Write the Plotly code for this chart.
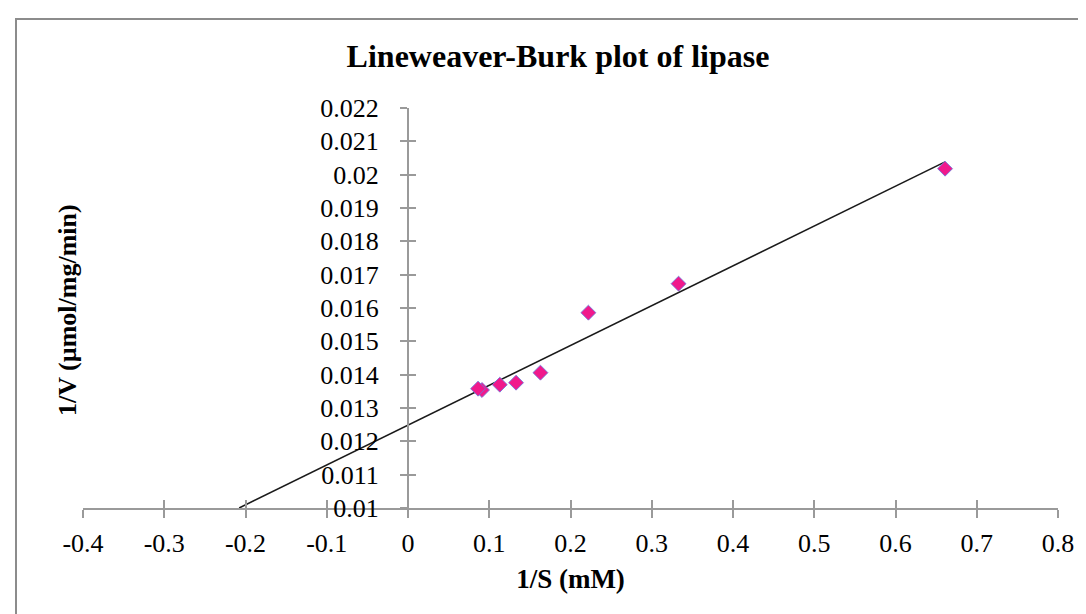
import numpy as np
import plotly.graph_objects as go

# ---- data ----
inv_s = [0.661, 0.333, 0.222, 0.163, 0.133, 0.113, 0.0911, 0.0862]
inv_v = [0.02018, 0.01673, 0.01586, 0.01406, 0.01376, 0.0137, 0.01354, 0.01358]

x_tickvals = [-0.4, -0.3, -0.2, -0.1, 0, 0.1, 0.2, 0.3, 0.4, 0.5, 0.6, 0.7, 0.8]
x_ticktext = ["-0.4", "-0.3", "-0.2", "-0.1", "0", "0.1", "0.2", "0.3", "0.4", "0.5", "0.6", "0.7", "0.8"]
y_tickvals = [0.01, 0.011, 0.012, 0.013, 0.014, 0.015, 0.016, 0.017, 0.018, 0.019, 0.02, 0.021, 0.022]
y_ticktext = ["0.01", "0.011", "0.012", "0.013", "0.014", "0.015", "0.016", "0.017", "0.018", "0.019", "0.02", "0.021", "0.022"]

title_text = "Lineweaver-Burk plot of lipase"
x_title = "1/S (mM)"
y_title = "1/V (µmol/mg/min)"

x_range = [-0.4, 0.8]
y_range = [0.01, 0.022]

# linear trendline (least squares), extended back to the x-axis
slope, intercept = np.polyfit(inv_s, inv_v, 1)
x_start = (y_range[0] - intercept) / slope
x_end = max(inv_s)
trend_x = [x_start, x_end]
trend_y = [slope * v + intercept for v in trend_x]

FONT = "Liberation Serif"
AXIS_GREY = "#9a9a9a"

fig = go.Figure()
fig.add_trace(go.Scatter(x=trend_x, y=trend_y, mode="lines",
                         line=dict(color="#1a1a1a", width=1.6),
                         showlegend=False, hoverinfo="skip"))
fig.add_trace(go.Scatter(x=inv_s, y=inv_v, mode="markers",
                         marker=dict(symbol="diamond", size=11.5, color="#F0198C",
                                     line=dict(color="rgba(110,120,220,0.85)", width=1)),
                         showlegend=False))
# helper trace so that the overlay (tick-crossing) axes exist
fig.add_trace(go.Scatter(x=[], y=[], xaxis="x2", yaxis="y2", showlegend=False, hoverinfo="skip"))

W, H = 1086, 614
L, R, T, B = 75, 36, 100, 114
pw, ph = W - L - R, H - T - B

def px_to_paper_x(px):
    return (px - L) / pw

def px_to_paper_y(py):
    return (H - B - py) / ph

y_axis_pos = (0 - x_range[0]) / (x_range[1] - x_range[0])

fig.update_layout(
    width=W, height=H,
    margin=dict(l=L, r=R, t=T, b=B, autoexpand=False),
    paper_bgcolor="white", plot_bgcolor="white",
    font=dict(family=FONT, color="black"),
    title=dict(text="<b>" + title_text + "</b>", font=dict(family=FONT, size=32, color="black"),
               x=px_to_paper_x(550), xref="paper", xanchor="center",
               y=1 - 48 / H, yref="container", yanchor="middle"),
    xaxis=dict(range=x_range, tickvals=x_tickvals, ticktext=x_ticktext,
               showgrid=False, zeroline=False, showline=True, linecolor=AXIS_GREY, linewidth=2,
               ticks="outside", ticklen=8, tickwidth=1.5, tickcolor=AXIS_GREY,
               tickfont=dict(family=FONT, size=26, color="black"), ticklabelstandoff=3,
               title=dict(text="<b>" + x_title + "</b>", font=dict(family=FONT, size=27, color="black"),
                          standoff=12),
               anchor="y", fixedrange=True),
    yaxis=dict(range=y_range, tickvals=y_tickvals, ticktext=y_ticktext,
               showgrid=False, zeroline=False, showline=True, linecolor=AXIS_GREY, linewidth=2,
               ticks="outside", ticklen=7, tickwidth=1.5, tickcolor=AXIS_GREY,
               tickfont=dict(family=FONT, size=26, color="black"), ticklabelstandoff=16,
               anchor="free", position=y_axis_pos, fixedrange=True),
    xaxis2=dict(range=x_range, matches="x", overlaying="x", anchor="y2", side="bottom",
                tickvals=x_tickvals, showticklabels=False, showgrid=False, zeroline=False,
                showline=False, ticks="inside", ticklen=8, tickwidth=1.5, tickcolor=AXIS_GREY),
    yaxis2=dict(range=y_range, matches="y", overlaying="y", anchor="free", position=y_axis_pos,
                tickvals=y_tickvals, showticklabels=False, showgrid=False, zeroline=False,
                showline=False, ticks="inside", ticklen=7, tickwidth=1.5, tickcolor=AXIS_GREY),
    annotations=[dict(text="<b>" + y_title + "</b>", textangle=-90,
                      x=px_to_paper_x(59), y=px_to_paper_y(302), xref="paper", yref="paper",
                      xanchor="center", yanchor="middle", showarrow=False,
                      font=dict(family=FONT, size=26, color="black"))],
    shapes=[dict(type="rect", xref="paper", yref="paper",
                 x0=px_to_paper_x(8), x1=px_to_paper_x(1079),
                 y0=px_to_paper_y(630), y1=px_to_paper_y(11),
                 line=dict(color="#8c8c8c", width=2), fillcolor="rgba(0,0,0,0)", layer="below")],
    showlegend=False,
)

fig.write_html("out.html")
